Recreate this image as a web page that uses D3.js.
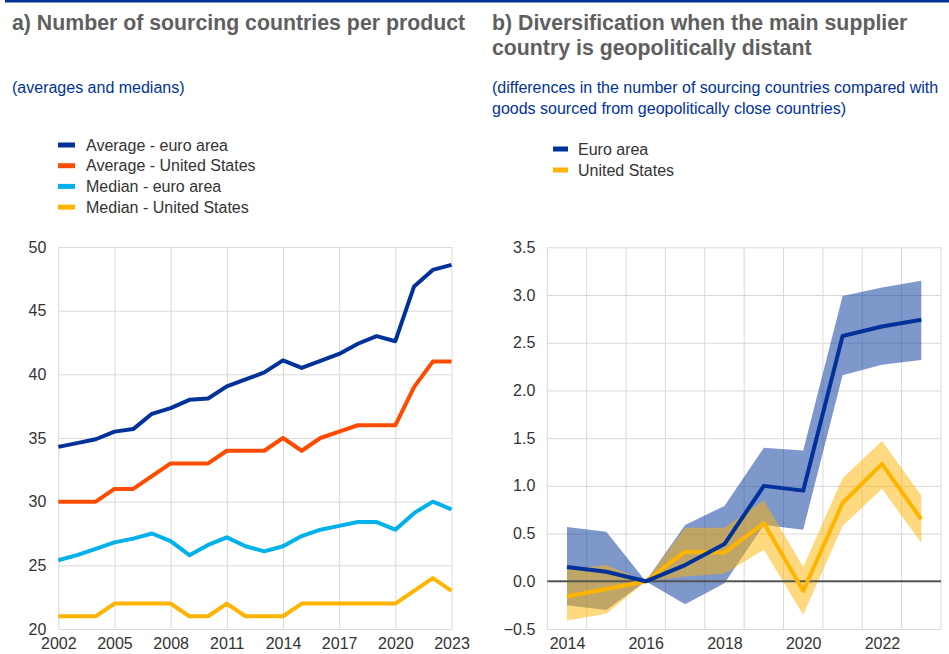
<!DOCTYPE html>
<html><head><meta charset="utf-8">
<script src="https://cdn.jsdelivr.net/npm/d3@7"></script>
<style>
body{margin:0;background:#fff;}
svg{display:block;font-family:"Liberation Sans",Arial,sans-serif;}
</style></head>
<body><svg id="c" width="949" height="654"></svg>
<script>
// ---- Panel a data ----
const yearsA = d3.range(2002, 2024);
const avgEA = [34.3,34.6,34.9,35.5,35.7,36.9,37.35,38.0,38.1,39.05,39.6,40.15,41.1,40.5,41.05,41.6,42.4,43.0,42.6,46.9,48.2,48.6];
const avgUS = [30,30,30,31,31,32,33,33,33,34,34,34,35,34,35,35.5,36,36,36,39,41,41];
const medEA = [25.4,25.8,26.3,26.8,27.1,27.5,26.9,25.8,26.6,27.2,26.5,26.1,26.5,27.3,27.8,28.1,28.4,28.4,27.8,29.1,30.0,29.4];
const medUS = [21,21,21,22,22,22,22,21,21,22,21,21,21,22,22,22,22,22,22,23,24,23];
const ticksXA = [2002,2005,2008,2011,2014,2017,2020,2023];
const ticksYA = [20,25,30,35,40,45,50];
const seriesA = ["Average - euro area","Average - United States","Median - euro area","Median - United States"];

// ---- Panel b data ----
const yearsB = d3.range(2014, 2024);
const eaMid = [0.15,0.10,0.0,0.17,0.39,1.0,0.95,2.57,2.67,2.74];
const eaHi  = [0.57,0.52,0.0,0.59,0.79,1.40,1.37,2.99,3.08,3.15];
const eaLo  = [-0.25,-0.30,0.0,-0.24,-0.02,0.59,0.54,2.16,2.27,2.32];
const usMid = [-0.16,-0.08,0.0,0.31,0.30,0.61,-0.10,0.82,1.23,0.65];
const usHi  = [0.12,0.17,0.0,0.56,0.56,0.85,0.15,1.08,1.47,0.90];
const usLo  = [-0.41,-0.34,0.0,0.05,0.08,0.33,-0.35,0.58,0.97,0.40];
const ticksXB = [2014,2016,2018,2020,2022];
const ticksYB = [-0.5,0,0.5,1,1.5,2,2.5,3,3.5];
const seriesB = ["Euro area","United States"];

const C = {blue:"#003299", orange:"#FF4B00", lblue:"#00B1EA", yellow:"#FFB400", grid:"#d9d9d9", text:"#333333", title:"#5f5f5f"};
const FS = 16, TFS = 21.3;
const FF = "Liberation Sans, Arial, sans-serif";

const svg = d3.select("#c");
svg.append("rect").attr("x",5).attr("y",0).attr("width",944).attr("height",2.5).attr("fill",C.blue);

// Titles
svg.append("text").attr("x",12).attr("y",30).attr("font-size",TFS).attr("font-weight","bold").attr("fill",C.title).text("a) Number of sourcing countries per product");
svg.append("text").attr("x",12).attr("y",93).attr("font-size",FS).attr("fill",C.blue).text("(averages and medians)");
const tb = svg.append("text").attr("font-size",TFS).attr("font-weight","bold").attr("fill",C.title);
tb.append("tspan").attr("x",492).attr("y",30).text("b) Diversification when the main supplier");
tb.append("tspan").attr("x",492).attr("y",55).text("country is geopolitically distant");
const sb = svg.append("text").attr("font-size",FS).attr("fill",C.blue);
sb.append("tspan").attr("x",492).attr("y",93).text("(differences in the number of sourcing countries compared with");
sb.append("tspan").attr("x",492).attr("y",114).text("goods sourced from geopolitically close countries)");

// Legend a
const colA = [C.blue,C.orange,C.lblue,C.yellow];
seriesA.forEach((s,i)=>{
  const y = 145 + i*20.7;
  svg.append("rect").attr("x",58).attr("y",y-2.5).attr("width",17).attr("height",5).attr("fill",colA[i]);
  svg.append("text").attr("x",86).attr("y",y+5.5).attr("font-size",FS).attr("fill",C.text).text(s);
});
// Legend b
const colB = [C.blue,C.yellow];
seriesB.forEach((s,i)=>{
  const y = 149 + i*21;
  svg.append("rect").attr("x",553).attr("y",y-2.5).attr("width",15).attr("height",5).attr("fill",colB[i]);
  svg.append("text").attr("x",578).attr("y",y+5.5).attr("font-size",FS).attr("fill",C.text).text(s);
});

// ---- Panel a chart ----
const xA = d3.scaleLinear().domain([2002,2023]).range([58.3,451.5]);
const yA = d3.scaleLinear().domain([20,50]).range([629,247]);
const gA = svg.append("g");
gA.append("g").attr("transform",`translate(${xA.range()[0]},0)`)
  .call(d3.axisLeft(yA).tickValues(ticksYA).tickSize(-(xA.range()[1]-xA.range()[0])).tickFormat(d3.format("d")))
  .call(g=>{g.select(".domain").remove();g.selectAll("line").attr("stroke",C.grid);
    g.selectAll("text").attr("font-size",FS).attr("fill",C.text).attr("x",-12).attr("font-family",FF);});
gA.append("g").attr("transform",`translate(0,${yA.range()[0]})`)
  .call(d3.axisBottom(xA).tickValues(ticksXA).tickSize(-(yA.range()[0]-yA.range()[1])).tickFormat(d3.format("d")))
  .call(g=>{g.select(".domain").remove();g.selectAll("line").attr("stroke",C.grid);
    g.selectAll("text").attr("font-size",FS).attr("fill",C.text).attr("y",9).attr("font-family",FF);});
const lineA = d3.line().x((d,i)=>xA(yearsA[i])).y(d=>yA(d));
[[medUS,C.yellow],[medEA,C.lblue],[avgUS,C.orange],[avgEA,C.blue]].forEach(([arr,col])=>{
  gA.append("path").datum(arr).attr("d",lineA).attr("fill","none").attr("stroke",col).attr("stroke-width",4).attr("stroke-linejoin","round");
});

// ---- Panel b chart ----
const xB = d3.scaleBand().domain(yearsB).range([547.3,941]).padding(0);
const cx = y => xB(y) + xB.bandwidth()/2;
const yB = d3.scaleLinear().domain([-0.5,3.5]).range([629,247.3]);
const gB = svg.append("g");
gB.append("g").attr("transform",`translate(${xB.range()[0]},0)`)
  .call(d3.axisLeft(yB).tickValues(ticksYB).tickSize(-(xB.range()[1]-xB.range()[0])).tickFormat(d3.format(".1f")))
  .call(g=>{g.select(".domain").remove();g.selectAll("line").attr("stroke",C.grid);
    g.selectAll("text").attr("font-size",FS).attr("fill",C.text).attr("x",-12).attr("font-family",FF);});
const edges = yearsB.map(y=>xB(y)).concat([xB.range()[1]]);
gB.selectAll("line.vg").data(edges).join("line").attr("class","vg")
  .attr("x1",d=>d).attr("x2",d=>d).attr("y1",yB.range()[1]).attr("y2",yB.range()[0]).attr("stroke",C.grid);
gB.append("g").attr("transform",`translate(0,${yB.range()[0]})`)
  .call(d3.axisBottom(d3.scalePoint().domain(yearsB).range([cx(2014),cx(2023)])).tickValues(ticksXB).tickSize(0).tickFormat(d3.format("d")))
  .call(g=>{g.select(".domain").remove();
    g.selectAll("text").attr("font-size",FS).attr("fill",C.text).attr("y",9).attr("font-family",FF);});
const areaB = (hi,lo)=> d3.area().x((d,i)=>cx(yearsB[i])).y0((d,i)=>yB(lo[i])).y1((d,i)=>yB(hi[i]));
gB.append("path").datum(eaHi).attr("d",areaB(eaHi,eaLo)).attr("fill",C.blue).attr("fill-opacity",0.5);
gB.append("path").datum(usHi).attr("d",areaB(usHi,usLo)).attr("fill",C.yellow).attr("fill-opacity",0.5);
gB.append("line").attr("x1",xB.range()[0]).attr("x2",xB.range()[1]).attr("y1",yB(0)).attr("y2",yB(0)).attr("stroke","#555").attr("stroke-width",2);
const lineB = d3.line().x((d,i)=>cx(yearsB[i])).y(d=>yB(d));
gB.append("path").datum(usMid).attr("d",lineB).attr("fill","none").attr("stroke",C.yellow).attr("stroke-width",4).attr("stroke-linejoin","round");
gB.append("path").datum(eaMid).attr("d",lineB).attr("fill","none").attr("stroke",C.blue).attr("stroke-width",4).attr("stroke-linejoin","round");
</script></body></html>
